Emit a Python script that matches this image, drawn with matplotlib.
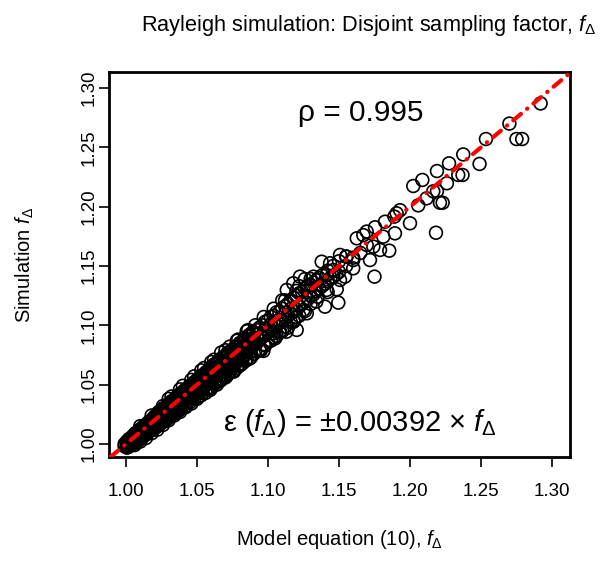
import numpy as np
import matplotlib
matplotlib.use('Agg')
import matplotlib.pyplot as plt

plt.rcParams['font.family'] = ['Liberation Sans', 'DejaVu Sans']
plt.rcParams['mathtext.fontset'] = 'custom'
plt.rcParams['mathtext.rm'] = 'Liberation Sans'
plt.rcParams['mathtext.it'] = 'Liberation Sans:italic'

# dense band, model f (x) vs simulated f (y)
x_dense = [0.999, 0.999,
           1.001, 1.001, 1.001, 1.003, 1.003, 1.003, 1.005, 1.005, 1.005,
           1.007, 1.007, 1.007, 1.007, 1.009, 1.009, 1.009,
           1.011, 1.011, 1.011, 1.011, 1.013, 1.013, 1.013,
           1.015, 1.015, 1.015, 1.015, 1.017, 1.017, 1.017,
           1.019, 1.019, 1.019, 1.019, 1.021, 1.021, 1.021,
           1.023, 1.023, 1.023, 1.023, 1.025, 1.025, 1.025,
           1.027, 1.027, 1.027, 1.027, 1.029, 1.029, 1.029,
           1.031, 1.031, 1.031, 1.031, 1.033, 1.033, 1.033,
           1.035, 1.035, 1.035, 1.035, 1.037, 1.037, 1.037,
           1.039, 1.039, 1.039, 1.039, 1.042, 1.042, 1.042, 1.042,
           1.045, 1.045, 1.045, 1.045, 1.048, 1.048, 1.048, 1.048,
           1.051, 1.051, 1.051, 1.051, 1.054, 1.054, 1.054, 1.054,
           1.057, 1.057, 1.057, 1.057, 1.060, 1.060, 1.060, 1.060,
           1.063, 1.063, 1.063, 1.063, 1.066, 1.066, 1.066, 1.066,
           1.069, 1.069, 1.069, 1.069, 1.072, 1.072, 1.072, 1.072,
           1.075, 1.075, 1.075, 1.075, 1.078, 1.078, 1.078, 1.078,
           1.081, 1.081, 1.081, 1.081, 1.084, 1.084, 1.084, 1.084,
           1.087, 1.087, 1.087, 1.087, 1.090, 1.090, 1.090, 1.090,
           1.094, 1.094, 1.094, 1.094, 1.098, 1.098, 1.098, 1.098,
           1.102, 1.102, 1.102, 1.102, 1.106, 1.106, 1.106,
           1.110, 1.110, 1.110, 1.114, 1.114, 1.114, 1.118, 1.118, 1.118,
           1.122, 1.122, 1.122, 1.126, 1.126, 1.126, 1.130, 1.130,
           1.134, 1.134, 1.134, 1.138, 1.138, 1.142, 1.142, 1.142,
           1.146, 1.146, 1.150, 1.150, 1.155, 1.155, 1.160, 1.165]
y_dense = [0.998, 1.000,
           0.999, 1.002, 0.997, 1.001, 1.004, 0.999, 1.002, 1.006, 1.000,
           1.004, 1.008, 1.001, 1.006, 1.006, 1.010, 1.003,
           1.008, 1.012, 1.005, 1.010, 1.010, 1.014, 1.007,
           1.012, 1.017, 1.009, 1.014, 1.014, 1.019, 1.011,
           1.016, 1.021, 1.012, 1.018, 1.018, 1.023, 1.014,
           1.020, 1.026, 1.016, 1.023, 1.022, 1.028, 1.018,
           1.024, 1.030, 1.019, 1.027, 1.026, 1.032, 1.021,
           1.028, 1.034, 1.023, 1.031, 1.030, 1.036, 1.025,
           1.032, 1.039, 1.026, 1.035, 1.034, 1.041, 1.028,
           1.036, 1.043, 1.030, 1.039, 1.039, 1.046, 1.032, 1.042,
           1.041, 1.049, 1.035, 1.045, 1.044, 1.052, 1.038, 1.047,
           1.047, 1.055, 1.040, 1.051, 1.050, 1.058, 1.043, 1.053,
           1.053, 1.061, 1.046, 1.057, 1.056, 1.064, 1.048, 1.059,
           1.059, 1.067, 1.051, 1.063, 1.061, 1.070, 1.054, 1.066,
           1.064, 1.073, 1.056, 1.068, 1.067, 1.076, 1.059, 1.071,
           1.070, 1.079, 1.061, 1.075, 1.073, 1.082, 1.064, 1.077,
           1.076, 1.085, 1.067, 1.080, 1.079, 1.088, 1.070, 1.083,
           1.082, 1.092, 1.072, 1.086, 1.085, 1.094, 1.076, 1.089,
           1.088, 1.098, 1.079, 1.093, 1.092, 1.103, 1.083, 1.097,
           1.096, 1.107, 1.087, 1.101, 1.100, 1.111, 1.091,
           1.104, 1.114, 1.095, 1.108, 1.118, 1.098, 1.112, 1.123, 1.104,
           1.116, 1.127, 1.108, 1.120, 1.131, 1.112, 1.125, 1.134,
           1.129, 1.138, 1.120, 1.133, 1.142, 1.137, 1.146, 1.128,
           1.141, 1.150, 1.145, 1.154, 1.150, 1.158, 1.157, 1.161]

# second pass over the band (fills it in)
x_band = [1.0005, 1.0005, 1.0005, 1.002, 1.002, 1.002, 1.0035, 1.0035, 1.0035,
          1.005, 1.005, 1.005, 1.0065, 1.0065, 1.0065, 1.008, 1.008, 1.008,
          1.0095, 1.0095, 1.0095, 1.011, 1.011, 1.011, 1.0125, 1.0125, 1.0125,
          1.014, 1.014, 1.014, 1.0155, 1.0155, 1.0155, 1.017, 1.017, 1.017,
          1.0185, 1.0185, 1.0185, 1.020, 1.020, 1.020,
          1.0215, 1.0215, 1.0215, 1.023, 1.023, 1.023, 1.0245, 1.0245, 1.0245,
          1.026, 1.026, 1.026, 1.0275, 1.0275, 1.0275, 1.029, 1.029, 1.029,
          1.0305, 1.0305, 1.0305, 1.032, 1.032, 1.032, 1.0335, 1.0335, 1.0335,
          1.035, 1.035, 1.035, 1.0365, 1.0365, 1.0365, 1.038, 1.038, 1.038,
          1.0395, 1.0395, 1.0395, 1.041, 1.041, 1.041, 1.0425, 1.0425, 1.0425,
          1.044, 1.044, 1.044, 1.0455, 1.0455, 1.0455, 1.047, 1.047, 1.047,
          1.0485, 1.0485, 1.0485, 1.050, 1.050, 1.050, 1.0515, 1.0515, 1.0515,
          1.053, 1.053, 1.053, 1.0545, 1.0545, 1.0545, 1.056, 1.056, 1.056,
          1.0575, 1.0575, 1.0575, 1.059, 1.059, 1.059,
          1.0605, 1.0605, 1.0605, 1.062, 1.062, 1.062, 1.0635, 1.0635, 1.0635,
          1.065, 1.065, 1.065, 1.0665, 1.0665, 1.0665, 1.068, 1.068, 1.068,
          1.0695, 1.0695, 1.0695, 1.071, 1.071, 1.071, 1.0725, 1.0725, 1.0725,
          1.074, 1.074, 1.074, 1.0755, 1.0755, 1.0755, 1.077, 1.077, 1.077,
          1.0785, 1.0785, 1.0785, 1.080, 1.080, 1.080, 1.0815, 1.0815, 1.0815,
          1.083, 1.083, 1.083, 1.0845, 1.0845, 1.0845, 1.086, 1.086, 1.086,
          1.0875, 1.0875, 1.0875, 1.089, 1.089, 1.089,
          1.092, 1.092, 1.096, 1.096, 1.100, 1.100, 1.104, 1.104, 1.108, 1.108,
          1.112, 1.112, 1.116, 1.116, 1.120, 1.120, 1.124, 1.124, 1.128, 1.128,
          1.132, 1.132, 1.136, 1.136, 1.140, 1.144, 1.148]
y_band = [0.997, 0.999, 1.002, 0.998, 1.002, 1.004, 0.999, 1.001, 1.005,
          1.001, 1.004, 1.007, 1.002, 1.005, 1.009, 1.004, 1.008, 1.010,
          1.005, 1.008, 1.012, 1.007, 1.011, 1.013, 1.008, 1.011, 1.015,
          1.010, 1.014, 1.016, 1.011, 1.014, 1.018, 1.013, 1.017, 1.019,
          1.014, 1.017, 1.021, 1.015, 1.019, 1.023,
          1.0145, 1.0185, 1.0245, 1.018, 1.023, 1.027, 1.0175, 1.0215, 1.0275,
          1.021, 1.026, 1.030, 1.0205, 1.0245, 1.0305, 1.024, 1.029, 1.033,
          1.0235, 1.0275, 1.0335, 1.027, 1.032, 1.036, 1.0265, 1.0305, 1.0365,
          1.030, 1.035, 1.039, 1.0295, 1.0335, 1.0395, 1.033, 1.038, 1.042,
          1.0325, 1.0365, 1.0425, 1.036, 1.041, 1.045, 1.0355, 1.0395, 1.0455,
          1.039, 1.044, 1.048, 1.0385, 1.0425, 1.0485, 1.042, 1.047, 1.051,
          1.0415, 1.0455, 1.0515, 1.045, 1.050, 1.054, 1.0445, 1.0485, 1.0545,
          1.048, 1.053, 1.057, 1.0475, 1.0515, 1.0575, 1.051, 1.056, 1.060,
          1.0505, 1.0545, 1.0605, 1.054, 1.059, 1.063,
          1.0515, 1.0565, 1.0635, 1.056, 1.062, 1.067, 1.0545, 1.0595, 1.0665,
          1.059, 1.065, 1.070, 1.0575, 1.0625, 1.0695, 1.062, 1.068, 1.073,
          1.0605, 1.0655, 1.0725, 1.065, 1.071, 1.076, 1.0635, 1.0685, 1.0755,
          1.068, 1.074, 1.079, 1.0665, 1.0715, 1.0785, 1.071, 1.077, 1.082,
          1.0695, 1.0745, 1.0815, 1.074, 1.080, 1.085, 1.0725, 1.0775, 1.0845,
          1.077, 1.083, 1.088, 1.0755, 1.0805, 1.0875, 1.080, 1.086, 1.091,
          1.0785, 1.0835, 1.0905, 1.083, 1.089, 1.094,
          1.085, 1.096, 1.090, 1.100, 1.094, 1.104, 1.097, 1.108, 1.102, 1.111,
          1.106, 1.116, 1.110, 1.121, 1.113, 1.125, 1.118, 1.128, 1.122, 1.133,
          1.126, 1.136, 1.131, 1.140, 1.135, 1.140, 1.143]

# points on the edges of the band
x_edge = [1.006, 1.010, 1.010, 1.014, 1.018, 1.018, 1.022, 1.026, 1.026,
          1.030, 1.030, 1.034, 1.038, 1.038, 1.042, 1.046, 1.046, 1.050,
          1.053, 1.053, 1.056, 1.060, 1.060, 1.064, 1.067, 1.067, 1.070,
          1.073, 1.073, 1.076, 1.079, 1.079, 1.082, 1.085, 1.085, 1.088,
          1.091, 1.091, 1.094, 1.097, 1.097, 1.100, 1.104, 1.104, 1.108,
          1.112, 1.112, 1.116, 1.120, 1.120, 1.125, 1.130, 1.130, 1.135,
          1.032, 1.040, 1.048, 1.055, 1.062, 1.070, 1.078, 1.086, 1.044,
          1.058, 1.066, 1.080, 1.095, 1.105, 1.118, 1.110, 1.122, 1.126]
y_edge = [0.999, 1.002, 1.015, 1.005, 1.009, 1.024, 1.012, 1.016, 1.032,
          1.020, 1.038, 1.024, 1.027, 1.046, 1.031, 1.034, 1.054, 1.038,
          1.041, 1.062, 1.043, 1.047, 1.069, 1.050, 1.054, 1.077, 1.056,
          1.060, 1.082, 1.061, 1.066, 1.088, 1.068, 1.071, 1.095, 1.073,
          1.078, 1.100, 1.080, 1.084, 1.107, 1.087, 1.090, 1.114, 1.094,
          1.099, 1.121, 1.103, 1.107, 1.129, 1.113, 1.118, 1.139, 1.124,
          1.040, 1.049, 1.057, 1.064, 1.071, 1.079, 1.087, 1.096, 1.036,
          1.047, 1.053, 1.066, 1.079, 1.089, 1.103, 1.121, 1.133, 1.139]

# sparse upper part
x_sparse = [1.292, 1.270, 1.275, 1.279, 1.2535, 1.2375, 1.249, 1.2275, 1.219,
            1.234, 1.237, 1.226, 1.2087, 1.2023, 1.2164, 1.219, 1.2117, 1.2211,
            1.2230, 1.2058, 1.193, 1.1906, 1.189, 1.200, 1.1824, 1.2183, 1.1894,
            1.1754, 1.1812, 1.1695, 1.1671, 1.1625, 1.1695, 1.1742, 1.1854,
            1.1789, 1.1507, 1.1554, 1.160, 1.1718, 1.1378, 1.1437, 1.146, 1.160,
            1.175, 1.1413, 1.1507, 1.132, 1.1225, 1.1542, 1.1484, 1.1413, 1.1273,
            1.1178, 1.1132, 1.1401, 1.1495, 1.1273, 1.1202, 1.113, 1.1085,
            1.1037, 1.0967, 1.0897, 1.0850, 1.0709, 1.0592, 1.078]
y_sparse = [1.287, 1.270, 1.257, 1.257, 1.257, 1.244, 1.236, 1.2365, 1.230,
            1.2267, 1.2267, 1.2197, 1.2225, 1.2174, 1.2129, 1.213, 1.207, 1.2033,
            1.2033, 1.2011, 1.197, 1.1944, 1.1916, 1.186, 1.1873, 1.178, 1.1775,
            1.1826, 1.1747, 1.179, 1.176, 1.1733, 1.1677, 1.1663, 1.1629,
            1.1635, 1.1593, 1.1578, 1.155, 1.155, 1.1536, 1.1523, 1.1466, 1.148,
            1.141, 1.1424, 1.1382, 1.141, 1.141, 1.141, 1.1303, 1.1298, 1.1326,
            1.1354, 1.1298, 1.1157, 1.1191, 1.1101, 1.0961, 1.0946, 1.0946,
            1.0933, 1.0784, 1.0849, 1.0792, 1.0573, 1.0455, 1.0708]

x_model = x_dense + x_band + x_edge + x_sparse
y_sim = y_dense + y_band + y_edge + y_sparse
ticks = [1.00, 1.05, 1.10, 1.15, 1.20, 1.25, 1.30]

fig = plt.figure(figsize=(6.04, 5.61), dpi=100)
ax = fig.add_axes([0.1805, 0.1854, 0.7632, 0.6863])

ax.scatter(x_model, y_sim, s=85, facecolors='none', edgecolors='black', linewidths=1.2, zorder=2)
ax.axline((1.0, 1.0), slope=1, color='red', lw=3, linestyle=(0, (2.4, 1.9, 0.1, 1.9)),
          dash_capstyle='round', zorder=3)

ax.set_xlim(0.988, 1.3127)
ax.set_ylim(0.989, 1.3135)
ax.set_xticks(ticks)
ax.set_xticklabels(['%.2f' % t for t in ticks], fontsize=13.5)
ax.set_yticks(ticks)
ax.set_yticklabels(['%.2f' % t for t in ticks], fontsize=13.5, rotation=90, va='center')
ax.tick_params(length=7, width=1.2)
ax.tick_params(axis='x', pad=12)
ax.tick_params(axis='y', pad=1)
for sp in ax.spines.values():
    sp.set_linewidth(2)

ax.text(1.165, 1.279, 'ρ = 0.995', fontsize=21.5, ha='center', va='center')
ax.text(1.165, 1.018, r'ε ($f_{\Delta}$) = ±0.00392 × $f_{\Delta}$', fontsize=21, ha='center', va='center')

ax.set_xlabel(r'Model equation (10), $f_{\Delta}$', fontsize=14.5, labelpad=20)
ax.set_ylabel(r'Simulation $f_{\Delta}$', fontsize=14.5, labelpad=32)
fig.text(0.61, 0.955, r'Rayleigh simulation: Disjoint sampling factor, $f_{\Delta}$', fontsize=15.7,
         ha='center', va='center')

fig.savefig('out.png', dpi=100)
